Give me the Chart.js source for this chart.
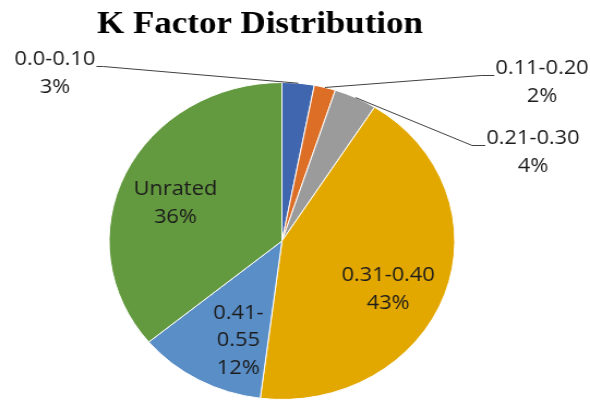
<!DOCTYPE html>
<html>
<head>
<meta charset="utf-8">
<script src="https://cdn.jsdelivr.net/npm/chart.js@4"></script>
<style>
  html, body { margin: 0; padding: 0; background: #ffffff; overflow: hidden; }
  #wrap { position: absolute; left: 0; top: 0; width: 541px; height: 404px;
          transform: scaleX(1.0906); transform-origin: 0 0; }
</style>
</head>
<body>
<div id="wrap"><canvas id="c"></canvas></div>
<script>
// ---- data ----
const titleText = 'K Factor Distribution';
const categories = ['0.0-0.10', '0.11-0.20', '0.21-0.30', '0.31-0.40', '0.41-0.55', 'Unrated'];
const shares = [3, 2, 4, 43, 12, 36];
const labelLines = [['0.0-0.10'], ['0.11-0.20'], ['0.21-0.30'], ['0.31-0.40'], ['0.41-', '0.55'], ['Unrated']];

// ---- styles / placement ----
const sliceColors = ['#3F66AE', '#DD6E26', '#9B9B9B', '#E3A800', '#5A8EC6', '#63993F'];
const labelPlacement = [
  { mode: 'outside', x: 50.4, y: 59.5, side: 'left', tail: 6 },
  { mode: 'outside', x: 497, y: 68.5, side: 'right', tail: 12 },
  { mode: 'outside', x: 488.7, y: 138.5, side: 'right', tail: 12 },
  { mode: 'inside', r: 0.68, dx: -4, dy: 12 },
  { mode: 'inside', r: 0.68, dx: 12, dy: 5 },
  { mode: 'inside', r: 0.66, dx: -3, dy: 7 }
];
const labelFont = '20px "Open Sans"';
const lineH = 27.5;

const labelPlugin = {
  id: 'sliceLabels',
  afterDatasetsDraw(chart) {
    const ctx = chart.ctx;
    const meta = chart.getDatasetMeta(0);
    ctx.save();
    ctx.font = labelFont;
    ctx.fillStyle = '#1c1c1c';
    ctx.textAlign = 'center';
    ctx.textBaseline = 'middle';
    meta.data.forEach((arc, i) => {
      const p = arc.getProps(['x', 'y', 'startAngle', 'endAngle', 'outerRadius'], true);
      const mid = (p.startAngle + p.endAngle) / 2;
      const lines = labelLines[i].concat([shares[i] + '%']);
      const pl = labelPlacement[i];
      let cx, cy;
      if (pl.mode === 'inside') {
        const r = p.outerRadius * pl.r;
        cx = p.x + Math.cos(mid) * r + (pl.dx || 0);
        const cyMid = p.y + Math.sin(mid) * r + (pl.dy || 0);
        cy = cyMid - (lines.length - 1) * lineH / 2;
      } else {
        cx = pl.x; cy = pl.y;
        const w = ctx.measureText(lines[0]).width;
        const sx = p.x + Math.cos(mid) * p.outerRadius;
        const sy = p.y + Math.sin(mid) * p.outerRadius;
        const ey = cy + 7;
        let ex, bx;
        if (pl.side === 'right') { ex = cx - w / 2 - 1; bx = ex - pl.tail; }
        else { ex = cx + w / 2 + 1; bx = ex + pl.tail; }
        ctx.beginPath();
        ctx.strokeStyle = '#404040';
        ctx.lineWidth = 1;
        ctx.moveTo(sx, sy);
        ctx.lineTo(bx, ey);
        ctx.lineTo(ex, ey);
        ctx.stroke();
      }
      lines.forEach((t, k) => ctx.fillText(t, cx, cy + k * lineH));
    });
    ctx.restore();
  }
};

const titlePlugin = {
  id: 'offsetTitle',
  afterDraw(chart) {
    const ctx = chart.ctx;
    ctx.save();
    ctx.font = 'bold 32px "Liberation Serif"';
    ctx.fillStyle = '#000000';
    ctx.textAlign = 'center';
    ctx.textBaseline = 'alphabetic';
    ctx.fillText(titleText, 238.4, 33);
    ctx.restore();
  }
};

new Chart(document.getElementById('c'), {
  type: 'pie',
  data: {
    labels: categories,
    datasets: [{
      data: shares,
      backgroundColor: sliceColors,
      borderColor: '#ffffff',
      borderWidth: 1
    }]
  },
  options: {
    responsive: true,
    maintainAspectRatio: false,
    animation: false,
    layout: { padding: { top: 82, bottom: 4, left: 0, right: 24 } },
    plugins: {
      legend: { display: false },
      title: { display: false },
      tooltip: { enabled: false }
    }
  },
  plugins: [labelPlugin, titlePlugin]
});
</script>
</body>
</html>
